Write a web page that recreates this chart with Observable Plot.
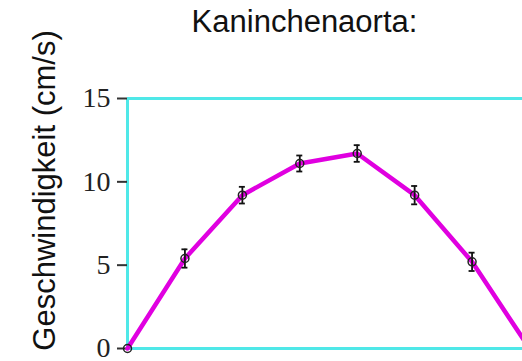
<!DOCTYPE html>
<html>
<head>
<meta charset="utf-8">
<script src="https://cdn.jsdelivr.net/npm/d3@7"></script>
<script src="https://cdn.jsdelivr.net/npm/@observablehq/plot@0.6"></script>
<style>
  html, body { margin: 0; padding: 0; background: #fff; }
  #title {
    width: 522px; height: 40px; line-height: 43px; box-sizing: border-box;
    padding-left: 87px; text-align: center;
    font-family: "Liberation Sans", Arial, sans-serif; font-size: 31px; color: #111;
    white-space: nowrap;
  }
  #chart svg { display: block; }
</style>
</head>
<body>
<div id="title">Kaninchenaorta:</div>
<div id="chart"></div>
<script>
// Messpositionen über den Gefäßquerschnitt
const position = [0, 1, 2, 3, 4, 5, 6, 7];
// mittlere Geschwindigkeit (cm/s)
const speed = [0, 5.4, 9.2, 11.1, 11.7, 9.2, 5.2, 0];
// Fehler (±, cm/s)
const speedError = [0, 0.55, 0.5, 0.48, 0.5, 0.55, 0.55, 0];
// Achsenbeschriftung
const yTicks = [0, 5, 10, 15];
const yLabel = "Geschwindigkeit (cm/s)";

const rows = position.map((p, i) => ({
  x: p, y: speed[i], lo: speed[i] - speedError[i], hi: speed[i] + speedError[i], err: speedError[i]
}));
const withErr = rows.filter(d => d.err > 0);

const frameColor = "#4fe8e8";
const lineColor = "#e000e0";

const plot = Plot.plot({
  width: 522,
  height: 321,
  marginTop: 58,
  marginBottom: 13,
  marginLeft: 127,
  marginRight: 0,
  style: { background: "transparent", overflow: "visible" },
  x: { domain: [0, 7], range: [127, 529], axis: null },
  y: { domain: [0, 15], axis: null },
  marks: [
    // Rahmen
    Plot.ruleY([0, 15], { stroke: frameColor, strokeWidth: 3 }),
    Plot.ruleX([0, 7], { stroke: frameColor, strokeWidth: 3 }),
    // y-Achse
    Plot.axisY({
      ticks: yTicks, tickSize: 10, tickPadding: 7, label: null,
      fontSize: 28, fontFamily: "Liberation Serif, Times New Roman, serif",
      stroke: "#333", strokeWidth: 2, color: "#222"
    }),
    Plot.text([yLabel], {
      frameAnchor: "left", rotate: -90, textAnchor: "middle", lineAnchor: "middle",
      dx: -82, dy: -33, fontSize: 31, fontFamily: "Liberation Sans, Arial, sans-serif",
      fill: "#111"
    }),
    // Geschwindigkeitsprofil
    Plot.line(rows, { x: "x", y: "y", stroke: lineColor, strokeWidth: 4.5, strokeLinejoin: "round" }),
    // Fehlerbalken
    Plot.ruleX(withErr, { x: "x", y1: "lo", y2: "hi", stroke: "#111", strokeWidth: 1.8 }),
    Plot.ruleY(withErr, { y: "lo", x1: "x", x2: "x", insetLeft: -3, insetRight: -3, stroke: "#111", strokeWidth: 1.8 }),
    Plot.ruleY(withErr, { y: "hi", x1: "x", x2: "x", insetLeft: -3, insetRight: -3, stroke: "#111", strokeWidth: 1.8 }),
    // Messpunkte
    Plot.dot(rows, { x: "x", y: "y", r: 4, stroke: "#222", strokeWidth: 1.5, fill: "none" })
  ]
});
document.getElementById("chart").appendChild(plot);
</script>
</body>
</html>
